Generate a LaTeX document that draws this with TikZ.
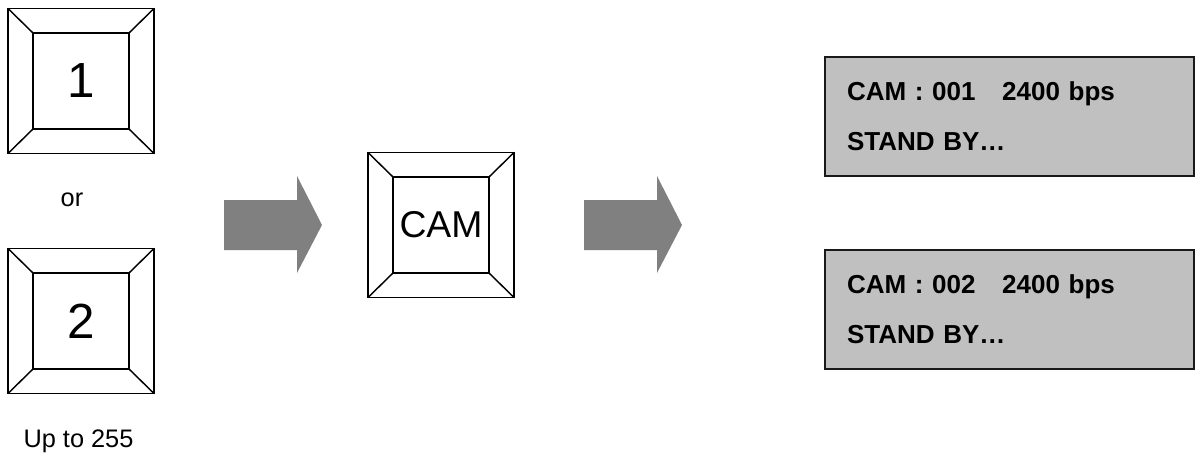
\documentclass[tikz,border=0pt]{standalone}
\usepackage{fontspec}
\setmainfont{Liberation Sans}
\usetikzlibrary{positioning}
\definecolor{lcdgray}{RGB}{192,192,192}
\definecolor{arrowgray}{RGB}{128,128,128}
\tikzset{
	x=0.75pt, y=-0.75pt,
	keyouter/.style={draw, line width=1.1pt, outer sep=0pt, minimum width=109.5pt, minimum height=108.75pt},
	keyinner/.style={draw, line width=1.1pt, outer sep=0pt, inner sep=0pt, minimum size=72pt},
	keyline/.style={line width=1.1pt},
	screen/.style={draw=black!90, line width=1.5pt, fill=lcdgray, outer sep=0pt,
		minimum width=276.75pt, minimum height=89.25pt, inner xsep=16.5pt,
		text width=243.75pt, align=left, font=\fontsize{19.5}{37.5}\selectfont\bfseries},
	bigarrow/.style={fill=arrowgray},
	note/.style={font=\fontsize{19}{22}\selectfont, anchor=base}}

\begin{document}
\begin{tikzpicture}
		\useasboundingbox (0,0) rectangle (1195,456);

		% number keys
		\node[keyouter] (k1) at (81,81) {};
		\node[keyouter, below=71.25pt of k1] (k2) {};
		\node[keyouter] (kc) at (441,225) {};
		\node[keyinner, font=\fontsize{37}{40}\selectfont] (k1-in) at (k1) {1};
		\node[keyinner, font=\fontsize{37}{40}\selectfont] (k2-in) at (k2) {2};
		\node[keyinner, font=\fontsize{28}{32}\selectfont] (kc-in) at (kc) {CAM};
		\foreach \k in {k1,k2,kc}
			\foreach \c in {north west,north east,south west,south east}
				\draw[keyline] (\k.\c) -- (\k-in.\c);

		\node[note] (or) at (72,206) {or};
		\node[note] (upto) at (78.5,447) {Up to 255};

		% arrows
		\foreach \ax in {224,584}
			\fill[bigarrow] (\ax,200) -- ++(73,0) -- ++(0,-24) -- ++(25,49)
				-- ++(-25,48) -- ++(0,-23) -- ++(-73,0) -- cycle;

		% displays
		\node[screen] (d1) at (1009.5,116.5) {CAM : 001\hspace{20pt}2400 bps\\STAND BY…};
		\node[screen] (d2) at (1009.5,309.5) {CAM : 002\hspace{20pt}2400 bps\\STAND BY…};
	\end{tikzpicture}
\end{document}
